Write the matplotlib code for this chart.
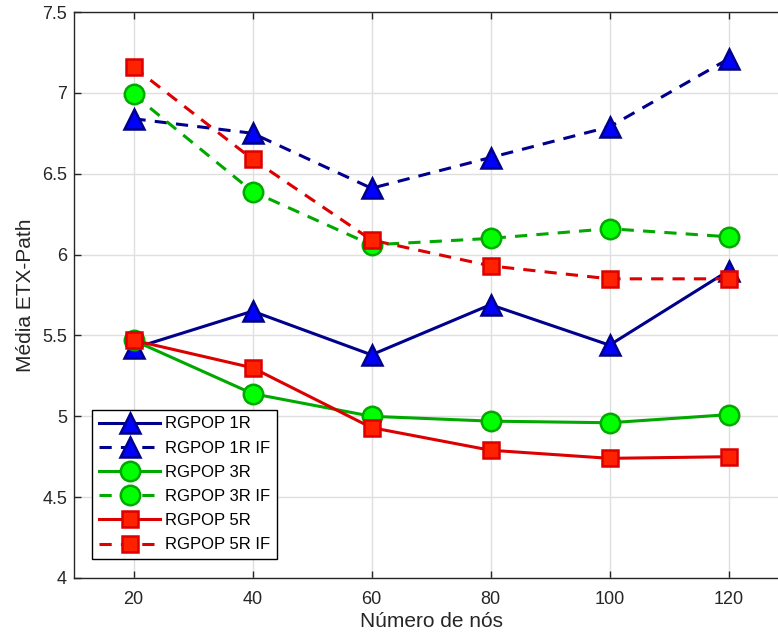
import matplotlib
matplotlib.use("Agg")
import matplotlib.pyplot as plt

plt.rcParams['font.family'] = ['Liberation Sans', 'DejaVu Sans']

nodes = [20, 40, 60, 80, 100, 120]
rgpop_1r = [5.42, 5.65, 5.38, 5.69, 5.44, 5.90]
rgpop_1r_if = [6.84, 6.75, 6.41, 6.60, 6.79, 7.21]
rgpop_3r = [5.47, 5.14, 5.00, 4.97, 4.96, 5.01]
rgpop_3r_if = [6.99, 6.39, 6.06, 6.10, 6.16, 6.11]
rgpop_5r = [5.47, 5.30, 4.93, 4.79, 4.74, 4.75]
rgpop_5r_if = [7.16, 6.59, 6.09, 5.93, 5.85, 5.85]
labels = ['RGPOP 1R', 'RGPOP 1R IF', 'RGPOP 3R', 'RGPOP 3R IF', 'RGPOP 5R', 'RGPOP 5R IF']
xticks = [20, 40, 60, 80, 100, 120]
yticks = [4, 4.5, 5, 5.5, 6, 6.5, 7, 7.5]
ytick_labels = ['4', '4.5', '5', '5.5', '6', '6.5', '7', '7.5']

fig = plt.figure(figsize=(7.78, 6.39), dpi=100)
ax = fig.add_axes([74/778, 61/639, 714/778, 566/639])

blue_line, blue_face = '#00008C', '#0000FF'
green_line, green_face = '#00A800', '#00FF00'
red_line, red_face = '#DC0000', '#FF2200'
lw = 2.2
dash = (4, 3)

series = [
    (rgpop_1r, blue_line, blue_face, '^', 15, '-'),
    (rgpop_1r_if, blue_line, blue_face, '^', 15, '--'),
    (rgpop_3r, green_line, green_face, 'o', 14, '-'),
    (rgpop_3r_if, green_line, green_face, 'o', 14, '--'),
    (rgpop_5r, red_line, red_face, 's', 11.5, '-'),
    (rgpop_5r_if, red_line, red_face, 's', 11.5, '--'),
]
for (vals, lc, fc, mk, ms, ls), lab in zip(series, labels):
    kw = dict(color=lc, lw=lw, marker=mk, markersize=ms, markerfacecolor=fc,
              markeredgecolor=lc, markeredgewidth=1.8, label=lab, zorder=3)
    if ls == '--':
        ax.plot(nodes, vals, linestyle='--', dashes=dash, **kw)
    else:
        ax.plot(nodes, vals, linestyle='-', **kw)

ax.set_xlim(10, 130)
ax.set_ylim(4, 7.5)
ax.set_xticks(xticks)
ax.set_yticks(yticks)
ax.set_yticklabels(ytick_labels)
ax.grid(True, color='#DFDFDF', linewidth=1.0)
ax.set_axisbelow(True)
for s in ax.spines.values():
    s.set_color('#262626')
    s.set_linewidth(1.0)
ax.tick_params(direction='in', length=5, width=1.0, colors='#262626',
               labelsize=13, top=True, right=True)
ax.tick_params(axis='x', pad=9)
ax.tick_params(axis='y', pad=5)
ax.set_xlabel('Número de nós', fontsize=15, color='#262626', labelpad=3)
ax.set_ylabel('Média ETX-Path', fontsize=15, color='#262626', labelpad=5)

leg = ax.legend(loc='lower left', bbox_to_anchor=(92/778, 80/639),
                bbox_transform=fig.transFigure, fontsize=12, frameon=True,
                fancybox=False, edgecolor='black', framealpha=1,
                handlelength=3.7, borderpad=0.4, labelspacing=0.55,
                handletextpad=0.3, borderaxespad=0)
leg.get_frame().set_linewidth(1.0)

fig.savefig('out.png', dpi=100)
